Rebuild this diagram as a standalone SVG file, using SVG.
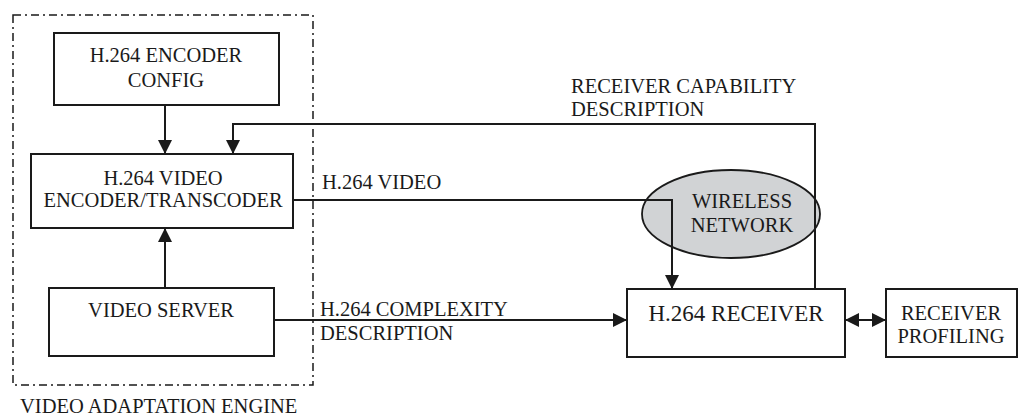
<svg xmlns="http://www.w3.org/2000/svg" width="1025" height="416" viewBox="0 0 1025 416">
<style>
.box{fill:#fff;stroke:#1a1a1a;stroke-width:2}
.t{font-family:"Liberation Serif","Times New Roman",serif;font-size:20.5px;fill:#1a1a1a}
.c{text-anchor:middle}
.ln{fill:none;stroke:#1a1a1a;stroke-width:2}
.frame{fill:none;stroke:#1a1a1a;stroke-width:1.5;stroke-dasharray:8 4 2 4}
</style>
<defs>
<marker id="ah" markerUnits="userSpaceOnUse" markerWidth="16" markerHeight="16" refX="14" refY="7" orient="auto">
<path d="M0,0 L14,7 L0,14 z" fill="#1a1a1a"/>
</marker>
<marker id="ahs" markerUnits="userSpaceOnUse" markerWidth="16" markerHeight="16" refX="0" refY="7" orient="auto">
<path d="M14,0 L0,7 L14,14 z" fill="#1a1a1a"/>
</marker>
</defs>
<g id="engine-frame">
<rect class="frame" x="13" y="15" width="300" height="370"/>
<text class="t" x="20" y="413">VIDEO ADAPTATION ENGINE</text>
</g>
<g id="wireless-network">
<ellipse cx="731" cy="214" rx="89" ry="44" fill="#d1d3d5" stroke="#1a1a1a" stroke-width="1.8"/>
</g>
<g id="connectors">
<line class="ln" x1="165" y1="105" x2="165" y2="154" marker-end="url(#ah)"/>
<line class="ln" x1="165" y1="288" x2="165" y2="228" marker-end="url(#ah)"/>
<polyline class="ln" points="815,289 815,124 233,124 233,154" marker-end="url(#ah)"/>
<polyline class="ln" points="293,200 672,200 672,289" marker-end="url(#ah)"/>
<line class="ln" x1="274" y1="320" x2="627" y2="320" marker-end="url(#ah)"/>
<line class="ln" x1="845" y1="320" x2="886" y2="320" marker-start="url(#ahs)" marker-end="url(#ah)"/>
<text class="t" x="322" y="189">H.264 VIDEO</text>
<text class="t" x="320" y="316">H.264 COMPLEXITY</text>
<text class="t" x="320" y="340">DESCRIPTION</text>
<text class="t" x="571" y="93">RECEIVER CAPABILITY</text>
<text class="t" x="571" y="116">DESCRIPTION</text>
</g>
<g id="wireless-label">
<text class="t c" x="742" y="208">WIRELESS</text>
<text class="t c" x="742" y="232">NETWORK</text>
</g>
<g id="encoder-config">
<rect class="box" x="54" y="33" width="225" height="72"/>
<text class="t c" x="166" y="62">H.264 ENCODER</text>
<text class="t c" x="166" y="87">CONFIG</text>
</g>
<g id="encoder-transcoder">
<rect class="box" x="31" y="154" width="262" height="74"/>
<text class="t c" x="163" y="185">H.264 VIDEO</text>
<text class="t c" x="163" y="207">ENCODER/TRANSCODER</text>
</g>
<g id="video-server">
<rect class="box" x="49" y="288" width="225" height="68"/>
<text class="t c" x="161" y="317">VIDEO SERVER</text>
</g>
<g id="receiver">
<rect class="box" x="627" y="289" width="218" height="68"/>
<text class="t c" x="736" y="321" style="font-size:23px">H.264 RECEIVER</text>
</g>
<g id="receiver-profiling">
<rect class="box" x="886" y="289" width="131" height="68"/>
<text class="t c" x="951" y="320">RECEIVER</text>
<text class="t c" x="951" y="343">PROFILING</text>
</g>
</svg>
